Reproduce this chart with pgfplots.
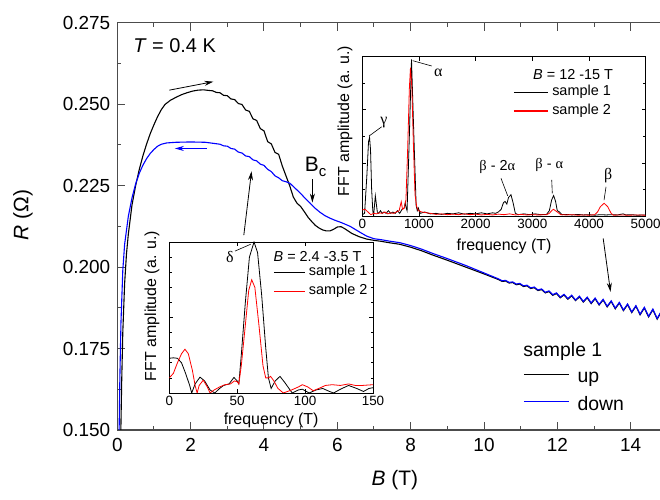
\documentclass[border=0pt]{standalone}
\usepackage{fontspec}
\setmainfont{Liberation Sans}
\newfontfamily\grk{Liberation Serif}
\usepackage{pgfplots}
\pgfplotsset{compat=1.18}
\usetikzlibrary{arrows.meta}
\definecolor{pblue}{RGB}{0,0,255}
\definecolor{pred}{RGB}{255,0,0}
\begin{document}
\begin{tikzpicture}
%================ MAIN AXIS =================
\begin{axis}[
 at={(0bp,0bp)}, anchor=south west, scale only axis,
 width=546.4bp, height=407.3bp,
 xmin=0, xmax=14.9, ymin=0.15, ymax=0.275,
 xtick={0,2,4,6,8,10,12,14}, minor x tick num=1,
 ytick={0.15,0.175,0.2,0.225,0.25,0.275}, minor y tick num=1,
 xtick pos=both, ytick pos=left, tick align=inside,
 major tick length=8bp, minor tick length=4bp,
 axis line style={black!70, line width=1.2bp},
 every tick/.append style={black!70, line width=1bp},
 scaled y ticks=false,
 yticklabel style={/pgf/number format/fixed, /pgf/number format/fixed zerofill, /pgf/number format/precision=3, xshift=-3.5bp},
 /pgf/number format/assume math mode=true,
 tick label style={font=\fontsize{19}{22}\selectfont},
 xticklabel style={yshift=-5bp},
 xlabel={\textit{B} (T)}, ylabel={\textit{R} (Ω)},
 label style={font=\fontsize{21}{24}\selectfont},
 xlabel style={at={(axis description cs:0.508,-0.1228)}, anchor=center},
 ylabel style={at={(axis description cs:-0.1726,0.528)}, anchor=center},
 legend style={at={(axis cs:11.07,0.1688)}, anchor=north west, draw=none, fill=none, inner sep=0pt, outer sep=0pt,
   font=\fontsize{19.5}{23}\selectfont, row sep=7.8bp, column sep=0pt,
   nodes={inner sep=0pt, outer sep=0pt, text depth=5.5bp, text height=14bp}},
 legend cell align=left,
 legend image code/.code={\draw[#1, line width=1.3bp] (0bp,4.15bp) -- (45.3bp,4.15bp);\path[draw=none, fill=none] (0bp,-4.15bp) rectangle (53.7bp,4.15bp);},
]
% sample 1, up sweep
\addplot[black, line width=1.1bp] coordinates {
(0.08,0.140) (0.10,0.152) (0.12,0.165) (0.15,0.180) (0.20,0.195) (0.25,0.204) (0.30,0.210) (0.40,0.2190) (0.50,0.2250) (0.60,0.2300) (0.70,0.2342) (0.80,0.2378) (0.90,0.2410) (1.00,0.2437) (1.10,0.2462) (1.20,0.2483) (1.30,0.2499) (1.45,0.2512) (1.60,0.2521) (1.75,0.2529) (1.90,0.2535) (2.05,0.2540) (2.20,0.2543) (2.35,0.2544) (2.50,0.2542) (2.60,0.2541) (2.70,0.2536) (2.80,0.2535) (2.90,0.2527) (3.00,0.2526) (3.10,0.2516) (3.20,0.2514) (3.30,0.2502) (3.40,0.2499) (3.50,0.2482) (3.60,0.2478) (3.70,0.2455) (3.80,0.2450) (3.90,0.2425) (4.00,0.2418) (4.10,0.2385) (4.20,0.2378) (4.30,0.2352) (4.40,0.2346) (4.50,0.2310) (4.60,0.2280) (4.70,0.2250) (4.80,0.2215) (4.90,0.2196) (5.00,0.2186) (5.10,0.2170) (5.20,0.2153) (5.30,0.2140) (5.40,0.2128) (5.50,0.2120) (5.60,0.2114) (5.70,0.2111) (5.80,0.2111) (5.90,0.2116) (6.00,0.2123) (6.10,0.2124) (6.20,0.2118) (6.40,0.2103) (6.60,0.2093) (6.80,0.2086) (7.00,0.2082) (7.20,0.2079) (7.40,0.2075) (7.70,0.2070) (8.00,0.2061) (8.30,0.2050) (8.60,0.2037) (9.00,0.2021) (9.50,0.2000) (10.00,0.1979)
(10.400,0.19615) (10.495,0.19560) (10.590,0.19571) (10.686,0.19510) (10.782,0.19525) (10.879,0.19458) (10.976,0.19479) (11.074,0.19404) (11.172,0.19424) (11.271,0.19342) (11.370,0.19367) (11.470,0.19279) (11.570,0.19309) (11.671,0.19207) (11.772,0.19249) (11.874,0.19132) (11.976,0.19188) (12.079,0.19058) (12.182,0.19144) (12.286,0.19014) (12.391,0.19116) (12.496,0.18970) (12.602,0.19087) (12.708,0.18925) (12.815,0.19058) (12.922,0.18879) (13.030,0.19029) (13.139,0.18835) (13.248,0.18991) (13.358,0.18778) (13.468,0.18944) (13.579,0.18720) (13.690,0.18897) (13.802,0.18662) (13.915,0.18848) (14.028,0.18602) (14.142,0.18797) (14.257,0.18536) (14.372,0.18745) (14.488,0.18470) (14.605,0.18691) (14.722,0.18402) (14.840,0.18637)
};
\addlegendentry{up}
% sample 1, down sweep
\addplot[pblue, line width=1.1bp] coordinates {
(0.04,0.140) (0.05,0.150) (0.07,0.166) (0.10,0.183) (0.15,0.199) (0.20,0.207) (0.30,0.2155) (0.40,0.2212) (0.50,0.2255) (0.60,0.2288) (0.70,0.2313) (0.80,0.2333) (0.90,0.2349) (1.00,0.2361) (1.10,0.2371) (1.20,0.2377) (1.35,0.2381) (1.60,0.2383) (2.00,0.2384) (2.40,0.2383) (2.60,0.2380) (2.80,0.2377) (2.90,0.2372) (3.00,0.2371) (3.10,0.2364) (3.20,0.2362) (3.30,0.2353) (3.40,0.2350) (3.50,0.2341) (3.60,0.2339) (3.70,0.2329) (3.80,0.2326) (3.90,0.2316) (4.00,0.2312) (4.10,0.2300) (4.20,0.2293) (4.30,0.2280) (4.40,0.2274) (4.50,0.2265) (4.60,0.2262) (4.71,0.2257) (4.85,0.2242) (5.00,0.2226) (5.13,0.2210) (5.26,0.2196) (5.40,0.2180) (5.53,0.2168) (5.66,0.2158) (5.80,0.2150) (5.95,0.2143) (6.10,0.2137) (6.35,0.2125) (6.60,0.2108) (6.80,0.2095) (7.00,0.2087) (7.20,0.2084) (7.40,0.2080) (7.70,0.2075) (8.00,0.2066) (8.30,0.2055) (8.60,0.2042) (9.00,0.2026) (9.50,0.2005) (10.00,0.1982)
(10.400,0.19635) (10.495,0.19580) (10.590,0.19591) (10.686,0.19530) (10.782,0.19545) (10.879,0.19478) (10.976,0.19499) (11.074,0.19424) (11.172,0.19444) (11.271,0.19362) (11.370,0.19387) (11.470,0.19299) (11.570,0.19329) (11.671,0.19227) (11.772,0.19269) (11.874,0.19152) (11.976,0.19208) (12.079,0.19078) (12.182,0.19164) (12.286,0.19034) (12.391,0.19136) (12.496,0.18990) (12.602,0.19107) (12.708,0.18945) (12.815,0.19078) (12.922,0.18899) (13.030,0.19049) (13.139,0.18855) (13.248,0.19011) (13.358,0.18798) (13.468,0.18964) (13.579,0.18740) (13.690,0.18917) (13.802,0.18682) (13.915,0.18868) (14.028,0.18622) (14.142,0.18817) (14.257,0.18556) (14.372,0.18765) (14.488,0.18490) (14.605,0.18711) (14.722,0.18422) (14.840,0.18657)
};
\addlegendentry{down}
% annotations
\node[anchor=base west, inner sep=0, font=\fontsize{20}{24}\selectfont] at (axis cs:0.43,0.2659) {\textit{T} = 0.4 K};
\draw[draw=black, line width=0.8bp, -{Stealth[length=9bp,width=5bp]}] (axis cs:1.42,0.2543) -- (axis cs:2.62,0.2569);
\draw[draw=pblue, fill=pblue, line width=0.8bp, -{Stealth[length=9bp,width=5bp]}] (axis cs:2.44,0.2364) -- (axis cs:1.57,0.2364);
\node[anchor=base west, inner sep=0, font=\fontsize{21}{24}\selectfont] at (axis cs:5.11,0.2292) {B\raisebox{-5bp}{\fontsize{15}{15}\selectfont c}};
\draw[draw=black, line width=0.8bp, -{Stealth[length=9bp,width=5bp]}] (axis cs:5.32,0.2270) -- (axis cs:5.32,0.2198);
\draw[draw=black, line width=0.8bp, -{Stealth[length=9bp,width=5bp]}] (axis cs:3.45,0.2098) -- (axis cs:3.66,0.2294);
\draw[draw=black, line width=0.8bp, -{Stealth[length=9bp,width=5bp]}] (axis cs:13.25,0.2088) -- (axis cs:13.45,0.1924);
\node[anchor=base west, inner sep=0, font=\fontsize{19.5}{23}\selectfont] at (axis cs:11.07,0.1725) {sample 1};
\end{axis}
%================ TOP INSET =================
\begin{axis}[
 at={(245bp,214bp)}, anchor=south west, scale only axis,
 width=283.4bp, height=159.3bp,
 xmin=0, xmax=5000, ymin=0, ymax=6,
 xtick={0,1000,2000,3000,4000,5000},
 ytick={0,2,4,6}, minor ytick={1,3,5}, yticklabels={},
 xtick pos=both, ytick pos=both, tick align=inside,
 major tick length=4bp, minor tick length=2.5bp,
 axis line style={black, line width=0.8bp},
 every tick/.append style={black, line width=0.6bp},
 scaled x ticks=false,
 xticklabel style={/pgf/number format/1000 sep={}},
 /pgf/number format/assume math mode=true,
 tick label style={font=\fontsize{13.5}{16}\selectfont},
 xlabel={frequency (T)}, ylabel={FFT amplitude (a. u.)},
 label style={font=\fontsize{16}{19}\selectfont},
 xlabel style={at={(axis description cs:0.5,-0.193)}, anchor=center},
 ylabel style={at={(axis description cs:-0.061,0.596)}, anchor=center},
 legend style={at={(axis cs:2664,4.917)}, anchor=north west, draw=none, fill=none, inner sep=0pt, outer sep=0pt,
   font=\fontsize{14.5}{17}\selectfont, row sep=3.8bp, column sep=0pt,
   nodes={inner sep=0pt, outer sep=0pt, text depth=4bp, text height=10.5bp}},
 legend cell align=left,
 legend image code/.code={\draw[#1, line width=1.15bp] (0bp,0bp) -- (34bp,0bp);\path[draw=none, fill=none] (0bp,-1bp) rectangle (38.4bp,1bp);},
]
\addplot[black, line width=0.8bp] coordinates {
(0,0.05) (40,0.1) (80,1.5) (110,2.8) (128,2.96) (145,2.5) (165,1.0) (185,0.2) (200,0.0) (215,0.4) (230,0.76) (245,0.5) (265,0.15) (290,0.1) (320,0.2) (350,0.1) (380,0.15) (420,0.1) (460,0.2) (500,0.1) (540,0.15) (580,0.1) (620,0.2) (660,0.1) (700,0.25) (740,0.3) (757,0.5) (775,0.3) (790,0.2) (830,3.0) (868,5.9) (910,3.0) (950,0.4) (970,0.2) (990,0.3) (1020,0.1) (1100,0.15) (1200,0.08) (1300,0.1) (1400,0.06) (1500,0.1) (1600,0.08) (1700,0.12) (1800,0.07) (1900,0.1) (2000,0.08) (2100,0.12) (2200,0.08) (2300,0.12) (2350,0.1) (2400,0.15) (2450,0.25) (2490,0.5) (2518,0.55) (2550,0.45) (2580,0.7) (2623,0.8) (2660,0.5) (2700,0.1) (2750,0.05) (2850,0.08) (2950,0.05) (3050,0.08) (3150,0.05) (3250,0.06) (3300,0.2) (3340,0.6) (3375,0.77) (3410,0.55) (3440,0.2) (3480,0.15) (3520,0.05) (3600,0.06) (3700,0.04) (3800,0.06) (3900,0.04) (4000,0.05) (4100,0.03) (4200,0.05) (4300,0.04) (4400,0.05) (4500,0.04) (4600,0.08) (4650,0.04) (4750,0.05) (4850,0.03) (5000,0.04)
};
\addlegendentry{sample 1}
\addplot[pred, line width=0.8bp] coordinates {
(0,0.23) (50,0.25) (100,0.15) (150,0.05) (200,0.1) (250,0.08) (300,0.12) (350,0.1) (400,0.15) (450,0.08) (500,0.12) (550,0.1) (600,0.15) (650,0.2) (687,0.54) (710,0.25) (740,0.3) (770,0.6) (800,2.5) (830,4.8) (850,5.59) (875,4.8) (900,2.8) (930,0.8) (960,0.35) (990,0.2) (1050,0.15) (1200,0.1) (1300,0.06) (1400,0.08) (1500,0.05) (1600,0.07) (1700,0.05) (1800,0.08) (1900,0.05) (2000,0.07) (2100,0.04) (2200,0.06) (2300,0.04) (2400,0.07) (2500,0.05) (2600,0.08) (2700,0.04) (2800,0.06) (2900,0.04) (3000,0.05) (3100,0.04) (3250,0.05) (3300,0.1) (3350,0.22) (3375,0.25) (3420,0.18) (3460,0.12) (3500,0.05) (3600,0.04) (3700,0.05) (3800,0.03) (3900,0.04) (4000,0.03) (4100,0.05) (4150,0.15) (4200,0.35) (4266,0.48) (4330,0.35) (4390,0.1) (4430,0.03) (4550,0.04) (4700,0.03) (4850,0.04) (5000,0.03)
};
\addlegendentry{sample 2}
\draw[draw=black, line width=0.6bp] (axis cs:118,3.01) -- (axis cs:342,3.36);
\node[inner sep=0, font=\grk\fontsize{16}{18}\selectfont] at (axis cs:383,3.51) {γ};
\draw[draw=black, line width=0.6bp] (axis cs:889,5.85) -- (axis cs:1224,5.65);
\node[inner sep=0, font=\grk\fontsize{16}{18}\selectfont] at (axis cs:1341,5.40) {α};
\draw[draw=black, line width=0.6bp] (axis cs:2447,1.42) -- (axis cs:2565,0.76);
\node[inner sep=0, font=\fontsize{14.5}{17}\selectfont] at (axis cs:2382,1.86) {{\grk β} - 2{\grk α}};
\draw[draw=black, line width=0.6bp] (axis cs:3342,1.36) -- (axis cs:3352,0.85);
\node[inner sep=0, font=\fontsize{14.5}{17}\selectfont] at (axis cs:3299,1.92) {{\grk β} - {\grk α}};
\draw[draw=black, line width=0.6bp] (axis cs:4300,1.10) -- (axis cs:4265,0.60);
\node[inner sep=0, font=\grk\fontsize{16}{18}\selectfont] at (axis cs:4340,1.51) {β};
\node[anchor=east, inner sep=0, font=\fontsize{14.5}{17}\selectfont] at (axis cs:4428,5.34) {\textit{B} = 12 -15 T};
\end{axis}
%================ BOTTOM INSET =================
\begin{axis}[
 at={(52bp,37bp)}, anchor=south west, scale only axis,
 width=203.7bp, height=151bp,
 xmin=0, xmax=150, ymin=0, ymax=10,
 xtick={0,50,100,150},
 ytick={0,5,10}, minor y tick num=4, yticklabels={},
 xtick pos=both, ytick pos=both, tick align=inside,
 major tick length=4bp, minor tick length=2.5bp,
 axis line style={black, line width=0.8bp},
 every tick/.append style={black, line width=0.6bp},
 /pgf/number format/assume math mode=true,
 tick label style={font=\fontsize{13.5}{16}\selectfont},
 xlabel={frequency (T)}, ylabel={FFT amplitude (a. u.)},
 label style={font=\fontsize{16}{19}\selectfont},
 xlabel style={at={(axis description cs:0.5,-0.179)}, anchor=center},
 ylabel style={at={(axis description cs:-0.085,0.576)}, anchor=center},
 legend style={at={(axis cs:76.6,8.447)}, anchor=north west, draw=none, fill=none, inner sep=0pt, outer sep=0pt,
   font=\fontsize{14.5}{17}\selectfont, row sep=3.9bp, column sep=0pt,
   nodes={inner sep=0pt, outer sep=0pt, text depth=4bp, text height=10.5bp}},
 legend cell align=left,
 legend image code/.code={\draw[#1, line width=1.15bp] (0bp,0bp) -- (30.7bp,0bp);\path[draw=none, fill=none] (0bp,-1bp) rectangle (35bp,1bp);},
]
\addplot[black, line width=0.8bp] coordinates {
(0,2.3) (3,2.33) (6,2.3) (9,2.0) (12,1.3) (15,0.5) (16.5,0) (19,0.6) (22.6,1.05) (26,0.8) (30,0.2) (33.5,0) (37,0.3) (40,0.5) (44,0.6) (47.6,1.03) (50,0.8) (51.2,0.6) (53,2.5) (56,6) (59,9) (62.4,10) (65,9.3) (68,6.5) (71,3) (73,1) (75,0.3) (78,0.8) (81.5,1.1) (85,0.7) (90.5,0) (95,0.2) (98,0.25) (103,0) (108,0.2) (113,0.3) (118,0.1) (121,0) (126,0.25) (132,0.5) (138,0.3) (143,0.1) (147,0.3) (150,0.35)
};
\addlegendentry{sample 1}
\addplot[pred, line width=0.8bp] coordinates {
(0,1.0) (3,1.3) (6,2.0) (9,2.6) (11.5,2.9) (14,2.6) (17,1.5) (19,0.5) (20.5,0) (22,0.5) (25,0.85) (28,0.4) (30,0) (33,0.2) (37,0.4) (41,0.55) (45,0.6) (48,0.8) (50,0.75) (51.2,0.6) (53,1.8) (56,4.5) (58.5,6.8) (60.7,7.5) (63,7) (66,4.5) (69,1.8) (71,1.0) (73,1.0) (74.6,1.1) (77,0.8) (80,0.3) (84,0) (90,0.2) (95,0.4) (98,0.55) (102,0.4) (106,0.15) (110,0.3) (115,0.5) (120,0.55) (126,0.5) (132,0.6) (137,0.5) (142,0.5) (150,0.55)
};
\addlegendentry{sample 2}
\draw[draw=black, line width=0.6bp] (axis cs:48.4,9.40) -- (axis cs:59.9,9.85);
\node[inner sep=0, font=\grk\fontsize{16}{18}\selectfont] at (axis cs:44.7,9.0) {δ};
\node[anchor=east, inner sep=0, font=\fontsize{14.5}{17}\selectfont] at (axis cs:141.7,9.07) {\textit{B} = 2.4 -3.5 T};
\end{axis}
\pgfresetboundingbox
\path (-117.3bp,-70bp) rectangle (542.7bp,430bp);
\end{tikzpicture}
\end{document}
